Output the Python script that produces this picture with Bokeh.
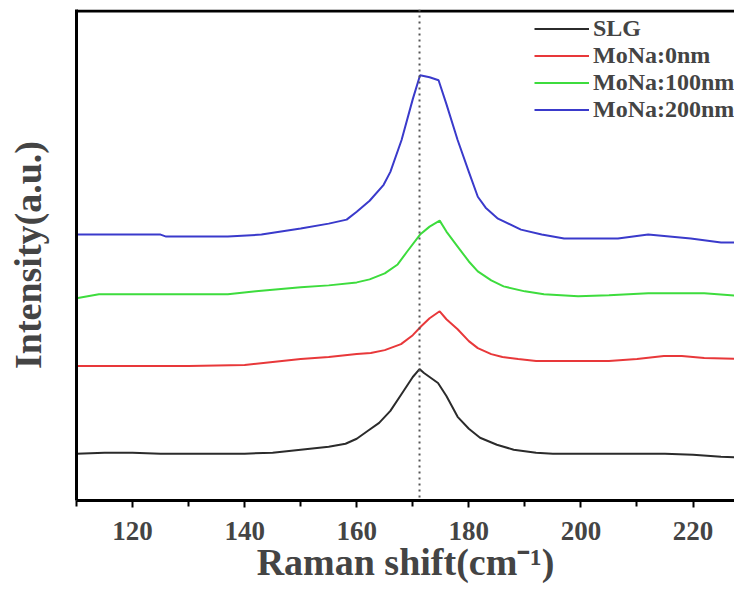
from bokeh.plotting import figure
from bokeh.models import LinearAxis, Span, Range1d, Legend, LegendItem, FixedTicker, BoxAnnotation
from bokeh.embed import file_html
from bokeh.resources import INLINE

# ---- data (arbitrary intensity units, curves already offset as in the figure) ----
x_slg = [110, 115, 120, 125, 130, 135, 140, 145, 150, 155, 158, 160, 162, 164, 166, 168, 170, 171.2,
         172, 174.5, 176, 178, 180, 182, 185, 188, 192, 195, 200, 210, 215, 220, 225, 229]
y_slg = [52, 53, 53, 52, 52, 52, 52, 53, 56, 59, 62, 67, 75, 83, 95, 112, 129, 137,
         133, 123, 110, 89, 77, 68, 61, 56, 53, 52, 52, 52, 52, 51, 49, 48]

x_0nm = [110, 120, 130, 140, 145, 150, 155, 160, 162.5, 165, 167.9, 170, 171.5, 173, 174.8, 176, 178,
         180, 181.6, 184, 186, 188.8, 192, 200, 205, 210, 214.8, 218, 222, 229]
y_0nm = [140, 140, 140, 141, 144, 147, 149, 152, 153, 156, 162, 171, 180, 188, 195, 187, 177,
         165, 158, 152, 149, 147, 145, 145, 145, 147, 150, 150, 148, 147]

x_100nm = [110, 114, 120, 130, 137, 142, 150, 155, 160, 162.3, 165, 167.3, 169, 171.3, 173, 174.8,
           176, 178, 180, 181.6, 184, 186.2, 190, 193.4, 199.5, 205, 212, 222, 229]
y_100nm = [208, 212, 212, 212, 212, 215, 219, 221, 224, 227, 233, 242, 255, 272, 280, 286,
           275, 260, 245, 235, 226, 220, 215, 212, 210, 211, 213, 213, 210]

x_200nm = [110, 125, 126, 137, 143, 150, 155, 158.2, 160, 162.3, 164.8, 166, 168, 170, 171.3, 173,
           174.6, 176, 178, 180, 181.6, 183, 185.2, 189.3, 193, 197, 206.6, 212, 219.6, 225, 229]
y_200nm = [272, 272, 270, 270, 272, 278, 283, 287, 295, 306, 322, 335, 367, 408, 432, 430,
           427, 403, 367, 335, 310, 299, 288, 277, 272, 268, 268, 272, 268, 264, 264]

peak_x = 171.2
y_top = 498
x_ticks = [120, 140, 160, 180, 200, 220]
x_minor = [110, 130, 150, 170, 190, 210, 230]
series_names = ["SLG", "MoNa:0nm", "MoNa:100nm", "MoNa:200nm"]
series_colors = ["#2b2b2b", "#e8383a", "#3ddc3d", "#3a3acb"]
x_title = "Raman shift(cm⁻¹)"
y_title = "Intensity(a.u.)"

SERIF = "Liberation Serif"

p = figure(width=734, height=588, output_backend="svg", toolbar_location=None,
           x_range=Range1d(110, 227.4), y_range=Range1d(5, y_top),
           x_axis_location=None, y_axis_location=None,
           min_border_left=76, min_border_right=0, min_border_top=9, min_border_bottom=88)
p.outline_line_color = None
p.xgrid.grid_line_color = None
p.ygrid.grid_line_color = None
p.background_fill_color = "white"

# bottom axis
xa = LinearAxis(ticker=FixedTicker(ticks=x_ticks, minor_ticks=x_minor))
xa.axis_label = x_title
xa.axis_label_text_font = SERIF
xa.axis_label_text_font_style = "bold"
xa.axis_label_text_font_size = "38px"
xa.axis_label_standoff = -2
xa.major_label_text_font = SERIF
xa.major_label_text_font_style = "bold"
xa.major_label_text_font_size = "27px"
xa.major_label_standoff = 14
xa.axis_line_width = 3
xa.major_tick_line_width = 2
xa.minor_tick_line_width = 2
xa.major_tick_in = 0
xa.major_tick_out = 7
xa.minor_tick_in = 0
xa.minor_tick_out = 6
p.add_layout(xa, "below")

# left axis: line + label only
ya = LinearAxis(ticker=FixedTicker(ticks=[]))
ya.axis_label = y_title
ya.axis_label_text_font = SERIF
ya.axis_label_text_font_style = "bold"
ya.axis_label_text_font_size = "38px"
ya.axis_label_standoff = 28
ya.major_tick_line_color = None
ya.minor_tick_line_color = None
ya.axis_line_width = 3
p.add_layout(ya, "left")

# top border of the frame: a thin filled band along the top edge
p.add_layout(BoxAnnotation(top=y_top, bottom=y_top - 3, fill_color="black", fill_alpha=1.0,
                           line_color=None))

# dotted reference line at the peak
p.add_layout(Span(location=peak_x, dimension="height", line_color="#555555",
                  line_width=2, line_dash="2 4"))

xs = [x_slg, x_0nm, x_100nm, x_200nm]
ys = [y_slg, y_0nm, y_100nm, y_200nm]
items = []
for xv, yv, name, col in zip(xs, ys, series_names, series_colors):
    r = p.line(xv, yv, line_color=col, line_width=2)
    items.append(LegendItem(label=name, renderers=[r]))

legend = Legend(items=items, location=(458, 377))
legend.border_line_color = None
legend.background_fill_alpha = 0
legend.label_text_font = SERIF
legend.label_text_font_style = "bold"
legend.label_text_font_size = "24px"
legend.glyph_width = 55
legend.glyph_height = 27
legend.label_height = 27
legend.label_standoff = 4
legend.spacing = 0
legend.padding = 0
legend.margin = 0
p.add_layout(legend, "center")

open("out.html", "w").write(file_html(p, INLINE))
